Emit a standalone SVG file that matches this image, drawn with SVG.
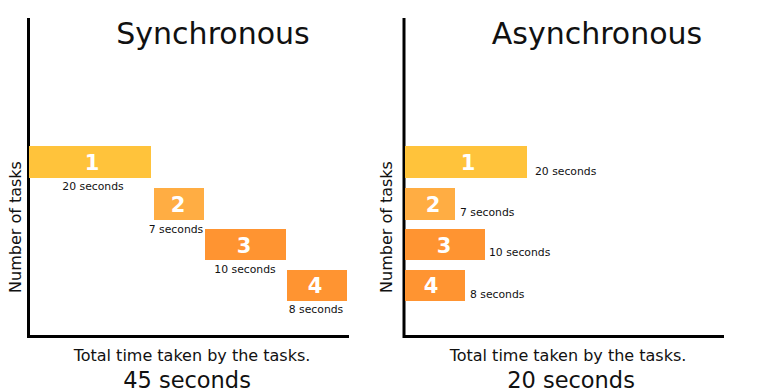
<svg xmlns="http://www.w3.org/2000/svg" width="760" height="392" viewBox="0 0 760 392">
<style>
text{font-family:"DejaVu Sans","Verdana",sans-serif;fill:#111}
.title{font-size:30px;text-anchor:middle}
.axis{stroke:#000;stroke-width:3;fill:none}
.ax{font-size:16px}
.tot{font-size:22.5px;text-anchor:middle}
.num{font-size:21px;font-weight:bold;fill:#fff;text-anchor:middle}
.sec{font-size:10.8px}
.c1{fill:#FFC33B}.c2{fill:#FFAD43}.c3{fill:#FF9431}
</style>
<rect width="760" height="392" fill="#fff"/>
<g id="sync">
<text class="title" x="213" y="44">Synchronous</text>
<g id="sync-axes" class="connectors"><path class="axis" d="M28.5,18 V336.5 H349"/></g>
<text class="ax" transform="translate(21,227) rotate(-90)" text-anchor="middle">Number of tasks</text>
<g id="s1"><rect class="c1" x="29" y="146" width="122" height="32"/><text class="num" x="92" y="170">1</text><text class="sec" x="93" y="190" text-anchor="middle">20 seconds</text></g>
<g id="s2"><rect class="c2" x="154" y="188" width="50" height="32"/><text class="num" x="178" y="212">2</text><text class="sec" x="176" y="233" text-anchor="middle">7 seconds</text></g>
<g id="s3"><rect class="c3" x="205" y="229" width="81" height="31"/><text class="num" x="244" y="253">3</text><text class="sec" x="245" y="273" text-anchor="middle">10 seconds</text></g>
<g id="s4"><rect class="c3" x="287" y="270" width="60" height="31"/><text class="num" x="315" y="293">4</text><text class="sec" x="316" y="313" text-anchor="middle">8 seconds</text></g>
<text class="ax" x="192" y="361" text-anchor="middle">Total time taken by the tasks.</text>
<text class="tot" x="187" y="388">45 seconds</text>
</g>
<g id="async">
<text class="title" x="597" y="44">Asynchronous</text>
<g id="async-axes" class="connectors"><path class="axis" d="M404,18 V336.5 H724"/></g>
<text class="ax" transform="translate(392,227) rotate(-90)" text-anchor="middle">Number of tasks</text>
<g id="a1"><rect class="c1" x="405" y="146" width="122" height="32"/><text class="num" x="468" y="170">1</text><text class="sec" x="535" y="175">20 seconds</text></g>
<g id="a2"><rect class="c2" x="405" y="188" width="50" height="32"/><text class="num" x="433" y="212">2</text><text class="sec" x="460" y="216">7 seconds</text></g>
<g id="a3"><rect class="c3" x="405" y="229" width="80" height="31"/><text class="num" x="444" y="253">3</text><text class="sec" x="489" y="256">10 seconds</text></g>
<g id="a4"><rect class="c3" x="405" y="270" width="60" height="31"/><text class="num" x="431" y="293">4</text><text class="sec" x="470" y="298">8 seconds</text></g>
<text class="ax" x="568" y="361" text-anchor="middle">Total time taken by the tasks.</text>
<text class="tot" x="571" y="388">20 seconds</text>
</g>
</svg>
